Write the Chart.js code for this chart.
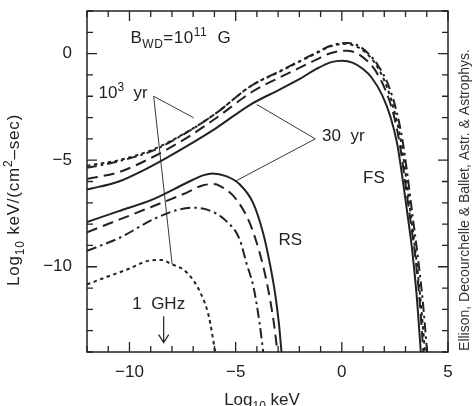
<!DOCTYPE html>
<html>
<head>
<meta charset="utf-8">
<script src="https://cdn.jsdelivr.net/npm/chart.js@4.4.1/dist/chart.umd.min.js"></script>
<style>
  html, body { margin: 0; padding: 0; background: #fff; }
  canvas { display: block; }
</style>
</head>
<body>
<canvas id="myChart" width="476" height="406"></canvas>
<script>
const ctx = document.getElementById('myChart');

// forward shock curves, [log10 keV, log10 flux]
const fsSolid = [[-12,-6.38],[-10.5,-6.0],[-9.3,-5.45],[-8.4,-4.97],[-7.3,-4.34],[-5.9,-3.48],[-4.3,-2.39],[-3,-1.72],[-2,-1.2],[-1.2,-0.72],[-0.5,-0.4],[0,-0.33],[0.5,-0.42],[1.0,-0.72],[1.4,-1.12],[1.9,-1.95],[2.3,-3.0],[2.6,-4.2],[2.88,-6.0],[3.1,-7.6],[3.3,-9.1],[3.52,-11.3],[3.72,-14]];
const fsDashed = [[-12,-5.88],[-10.5,-5.56],[-8.9,-4.85],[-7.3,-3.95],[-5.9,-3.01],[-4.3,-1.84],[-3,-1.15],[-2,-0.67],[-1.2,-0.28],[-0.5,0.03],[0.2,0.14],[0.7,0.02],[1.2,-0.35],[1.6,-0.82],[2.05,-1.7],[2.45,-2.9],[2.72,-4.2],[2.98,-6.0],[3.2,-7.6],[3.42,-9.2],[3.64,-11.3],[3.84,-14]];
const fsDashDot = [[-12,-5.36],[-10.5,-5.05],[-8.9,-4.55],[-7.3,-3.7],[-5.9,-2.78],[-4.3,-1.53],[-3,-0.86],[-2,-0.36],[-1.2,0.05],[-0.5,0.38],[0.3,0.5],[0.8,0.36],[1.3,-0.05],[1.7,-0.55],[2.2,-1.5],[2.6,-2.8],[2.88,-4.2],[3.13,-6.0],[3.33,-7.6],[3.55,-9.3],[3.8,-11.5],[4.02,-14]];
const fsDotted = [[-12,-5.26],[-10.5,-5.0],[-8.9,-4.5],[-7.3,-3.68],[-5.9,-2.78],[-4.3,-1.53],[-3,-0.88],[-2,-0.38],[-1.2,0.02],[-0.5,0.35],[0.2,0.46],[0.7,0.33],[1.2,-0.02],[1.6,-0.5],[2.1,-1.5],[2.5,-2.8],[2.8,-4.2],[3.05,-6.0],[3.25,-7.6],[3.47,-9.3],[3.7,-11.5],[3.92,-14]];

// reverse shock curves
const rsSolid = [[-12,-7.9],[-10.5,-7.39],[-8.9,-6.84],[-7.3,-6.06],[-6.5,-5.7],[-6.1,-5.62],[-5.45,-5.75],[-4.8,-6.14],[-4.18,-7.0],[-3.71,-8.41],[-3.4,-9.8],[-3.15,-11.2],[-2.97,-12.6],[-2.84,-14]];
const rsDashed = [[-12,-8.38],[-10.46,-7.78],[-8.89,-7.16],[-7.32,-6.53],[-6.6,-6.2],[-6.1,-6.12],[-5.75,-6.2],[-4.97,-6.84],[-4.34,-7.94],[-3.87,-9.34],[-3.53,-10.75],[-3.22,-12.5],[-3.03,-14]];
const rsDashDot = [[-12,-9.25],[-10.46,-8.64],[-8.89,-7.78],[-7.8,-7.35],[-7.1,-7.23],[-6.38,-7.31],[-5.44,-7.86],[-4.81,-8.72],[-4.5,-9.8],[-4.15,-11.0],[-3.88,-12.6],[-3.7,-14]];
const rsDotted = [[-12,-10.83],[-11.05,-10.47],[-10.11,-10.13],[-9.0,-9.7],[-8.5,-9.68],[-8.07,-9.85],[-7.29,-10.28],[-6.66,-11.22],[-6.27,-12.3],[-5.96,-14]];

const xMin = -12, xMax = 5;
const yMin = -14, yMax = 2;

const FONT = '"Liberation Sans", Arial, Helvetica, sans-serif';
const INK = '#222';

function pts(a) { return a.map(p => ({ x: p[0], y: p[1] })); }

function line(data, dash) {
  return {
    data: pts(data),
    borderColor: INK,
    borderWidth: 2,
    borderDash: dash,
    pointRadius: 0,
    cubicInterpolationMode: 'monotone',
    fill: false
  };
}

function fmt(v) {
  if (v % 5 !== 0) return '';
  return v < 0 ? '\u2212' + Math.abs(v) : String(v);
}

// text with sub (1) / sup (2) parts
function rich(c, parts, x, y, size, align) {
  const small = Math.round(size * 0.7);
  let w = 0;
  parts.forEach(p => {
    c.font = (p[1] ? small : size) + 'px ' + FONT;
    w += c.measureText(p[0]).width;
  });
  let cx = align === 'center' ? x - w / 2 : x;
  parts.forEach(p => {
    c.font = (p[1] ? small : size) + 'px ' + FONT;
    const dy = p[1] === 1 ? size * 0.28 : p[1] === 2 ? -size * 0.42 : 0;
    c.fillText(p[0], cx, y + dy);
    cx += c.measureText(p[0]).width;
  });
}

const frame = {
  id: 'frame',
  afterDraw(chart) {
    const c = chart.ctx;
    const xs = chart.scales.x, ys = chart.scales.y;
    const a = chart.chartArea;
    c.save();
    c.strokeStyle = INK;
    c.fillStyle = INK;
    c.lineWidth = 1.5;
    c.strokeRect(a.left, a.top, a.right - a.left, a.bottom - a.top);

    // inward ticks on all sides
    c.lineWidth = 1.3;
    c.beginPath();
    for (let v = xMin; v <= xMax; v++) {
      const px = xs.getPixelForValue(v);
      const len = v % 5 === 0 ? 10 : 6;
      c.moveTo(px, a.bottom); c.lineTo(px, a.bottom - len);
      c.moveTo(px, a.top); c.lineTo(px, a.top + len);
    }
    for (let v = yMin; v <= yMax; v++) {
      const py = ys.getPixelForValue(v);
      const len = v % 5 === 0 ? 10 : 6;
      c.moveTo(a.left, py); c.lineTo(a.left + len, py);
      c.moveTo(a.right, py); c.lineTo(a.right - len, py);
    }
    c.stroke();

    // pointer lines
    const X = v => xs.getPixelForValue(v), Y = v => ys.getPixelForValue(v);
    c.lineWidth = 0.9;
    c.beginPath();
    [[[-8.86,-2.0],[-6.98,-3.01]], [[-8.86,-2.0],[-7.99,-9.89]],
     [[-1.25,-4.0],[-4.0,-2.39]], [[-1.25,-4.0],[-5.02,-5.99]]].forEach(s => {
      c.moveTo(X(s[0][0]), Y(s[0][1]));
      c.lineTo(X(s[1][0]), Y(s[1][1]));
    });
    c.stroke();

    // 1 GHz arrow
    const ax = X(-8.39), ay0 = Y(-12.32), ay1 = Y(-13.56);
    c.lineWidth = 1.2;
    c.beginPath();
    c.moveTo(ax, ay0); c.lineTo(ax, ay1);
    c.moveTo(ax - 5, ay1 - 8); c.lineTo(ax, ay1); c.lineTo(ax + 5, ay1 - 8);
    c.stroke();

    // labels
    c.textAlign = 'left';
    c.textBaseline = 'alphabetic';
    c.letterSpacing = '0.5px';
    rich(c, [['B',0],['WD',1],['=10',0],['11',2],['  G',0]], X(-9.95), Y(0.49), 17, 'left');
    c.letterSpacing = '0px';
    rich(c, [['10',0],['3',2],['  yr',0]], X(-11.46), Y(-2.08), 17, 'left');
    rich(c, [['30  yr',0]], X(-0.93), Y(-4.08), 17, 'left');
    rich(c, [['FS',0]], X(1.0), Y(-6.05), 17, 'left');
    rich(c, [['RS',0]], X(-2.98), Y(-9.0), 17, 'left');
    rich(c, [['1  GHz',0]], X(-9.87), Y(-12.0), 17, 'left');

    // axis titles
    rich(c, [['Log',0],['10',1],[' keV',0]], 262, 405, 17, 'center');
    c.save();
    c.translate(19, 200);
    c.rotate(-Math.PI / 2);
    c.letterSpacing = '0.8px';
    rich(c, [['Log',0],['10',1],[' keV/(cm',0],['2',2],['\u2013sec)',0]], 0, 0, 17, 'center');
    c.restore();

    // side credit
    c.save();
    c.fillStyle = '#333';
    c.translate(469, 200);
    c.rotate(-Math.PI / 2);
    c.font = '14px ' + FONT;
    c.textAlign = 'center';
    c.fillText('Ellison, Decourchelle & Ballet, Astr. & Astrophys.', 0, 0);
    c.restore();

    c.restore();
  }
};

new Chart(ctx, {
  type: 'line',
  data: {
    datasets: [
      line(fsSolid, []),
      line(fsDashed, [11, 6]),
      line(fsDashDot, [10, 4, 2.5, 4]),
      line(fsDotted, [3.5, 3.5]),
      line(rsSolid, []),
      line(rsDashed, [11, 6]),
      line(rsDashDot, [10, 4, 2.5, 4]),
      line(rsDotted, [3.5, 3.5])
    ]
  },
  options: {
    responsive: false,
    animation: false,
    layout: { padding: { left: 0, right: 28, top: 11, bottom: 0 } },
    plugins: { legend: { display: false }, tooltip: { enabled: false } },
    scales: {
      x: {
        type: 'linear',
        min: xMin, max: xMax,
        grid: { display: false, drawTicks: false },
        border: { display: false },
        afterFit: s => { s.height = 54; s.paddingLeft = 0; s.paddingRight = 0; },
        ticks: {
          stepSize: 1, autoSkip: false, maxRotation: 0, padding: 10,
          color: INK, font: { size: 17, family: FONT },
          callback: fmt
        }
      },
      y: {
        min: yMin, max: yMax,
        grid: { display: false, drawTicks: false },
        border: { display: false },
        afterFit: s => { s.width = 87; s.paddingTop = 0; s.paddingBottom = 0; },
        ticks: {
          stepSize: 1, autoSkip: false, padding: 15,
          color: INK, font: { size: 17, family: FONT },
          callback: fmt
        }
      }
    }
  },
  plugins: [frame]
});
</script>
</body>
</html>
